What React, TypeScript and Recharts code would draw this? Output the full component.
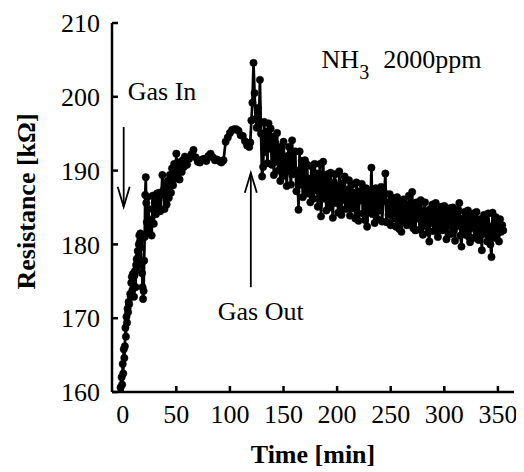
import { LineChart, Line, XAxis, YAxis, ReferenceLine, ReferenceDot } from 'recharts'

// time [min] of each reading
const timeMin = [
  -2, -1, -0.5, 0, 0.5, 1, 1.5, 2, 2.5, 3, 3.5, 4, 4.5, 5, 5.5, 6, 7, 7.5, 8, 8.5, 9, 9.5, 10, 10.5,
  11, 11.5, 12, 12.5, 13, 13.5, 14, 14.5, 15, 15.5, 16, 16.5, 17, 17.5, 18, 18.5, 19, 19.5, 20, 20.5,
  21, 21.5, 22, 22.5, 23, 23.5, 24, 25, 26, 27, 28, 29, 30, 31, 32, 33, 34, 35, 36, 37, 38, 39, 40,
  41, 42, 43, 44, 45, 46, 47, 48, 49, 50, 51, 52, 53, 54, 55, 56, 57, 58, 59, 60, 62, 64, 66, 68, 70,
  72, 74, 76, 78, 80, 82, 84, 86, 88, 90, 92, 94, 96, 98, 100, 102, 104, 106, 108, 110, 112, 114, 116,
  118, 119, 120, 121, 122, 123, 124, 125, 126, 127, 128, 129, 130, 131, 132, 133, 134, 135, 136, 137,
  138, 139, 140, 141, 142, 143, 144, 145, 146, 147, 148, 149,
  150, 151, 152, 153, 154, 155, 156, 157, 158, 159, 160, 161, 162, 163, 164, 165, 166, 167, 168, 169,
  170, 171, 172, 173, 174, 175, 176, 177, 178, 179, 180, 181, 182, 183, 184, 185, 186, 187, 188, 189,
  190, 191, 192, 193, 194, 195, 196, 197, 198, 199, 200, 201, 202, 203, 204, 205, 206, 207, 208, 209,
  210, 211, 212, 213, 214, 215, 216, 217, 218, 219, 220, 221, 222, 223, 224, 225, 226, 227, 228, 229,
  230, 231, 232, 233, 234, 235, 236, 237, 238, 239, 240, 241, 242, 243, 244, 245, 246, 247, 248, 249,
  250, 251, 252, 253, 254, 255, 256, 257, 258, 259, 260, 261, 262, 263, 264, 265, 266, 267, 268, 269,
  270, 271, 272, 273, 274, 275, 276, 277, 278, 279, 280, 281, 282, 283, 284, 285, 286, 287, 288, 289,
  290, 291, 292, 293, 294, 295, 296, 297, 298, 299, 300, 301, 302, 303, 304, 305, 306, 307, 308, 309,
  310, 311, 312, 313, 314, 315, 316, 317, 318, 319, 320, 321, 322, 323, 324, 325, 326, 327, 328, 329,
  330, 331, 332, 333, 334, 335, 336, 337, 338, 339, 340, 341, 342, 343, 344, 345, 346, 347, 348, 349,
  350, 351, 352, 353, 354, 355,
]

// resistance [kOhm]
const resistance = [
  160.6, 162.0, 161.0, 163.8, 162.5, 165.8, 164.6, 166.2, 168.7, 167.5, 170.2, 169.4, 171.3, 170.8, 172.2, 171.9, 173.3, 172.9, 174.8, 175.6, 173.8, 176.0, 174.6, 172.9,
  175.8, 176.4, 174.2, 177.2, 178.0, 176.9, 179.1, 178.3, 180.0, 181.2, 180.4, 181.5, 179.6, 177.6, 176.1, 174.2, 172.6, 173.7, 177.8, 181.0,
  186.7, 189.1, 185.6, 183.0, 186.4, 182.2, 184.8, 181.6, 183.3, 181.2, 186.6, 182.8, 185.7, 184.1, 186.9, 185.0, 187.0, 184.5, 186.7, 189.4, 187.3, 184.8, 187.9,
  185.4, 188.6, 186.3, 189.4, 187.0, 190.3, 188.0, 190.9, 188.9, 192.3, 189.6, 191.1, 188.8, 190.7, 189.8, 191.4, 190.5, 191.9, 191.0, 190.8, 191.6, 192.2, 192.8, 191.8, 191.2,
  191.1, 191.5, 191.6, 191.3, 192.0, 192.3, 191.8, 191.4, 191.5, 191.3, 191.1, 191.4, 193.9, 194.5, 195.1, 195.5, 195.6, 195.6, 195.4, 194.8, 194.7, 194.0, 193.4,
  193.2, 193.8, 196.8, 199.2, 204.6, 200.5, 197.0, 195.8, 198.5, 196.2, 202.3, 195.0, 189.2, 190.5, 196.6, 192.5, 195.3, 191.0, 196.4, 193.0,
  195.7, 190.8, 194.6, 189.4, 193.8, 191.2, 195.1, 190.0, 193.2, 188.6, 192.4, 190.1,
  193.9, 189.3, 191.6, 187.9, 192.0, 193.2, 189.9, 188.1, 194.1, 189.5, 190.2, 192.6, 187.2, 189.6, 184.7, 192.6, 188.1, 191.3, 186.4, 190.0,
  191.4, 187.4, 190.8, 186.9, 188.9, 185.7, 190.6, 188.7, 186.2, 190.9, 187.3, 189.6, 185.1, 188.5, 190.9, 183.8, 187.0, 191.2, 186.2, 188.8,
  184.6, 189.5, 187.1, 185.0, 189.7, 186.3, 183.6, 188.4, 189.5, 185.6, 187.9, 184.3, 189.9, 186.5, 184.0, 188.3, 186.0, 189.2, 184.8, 187.4,
  185.5, 188.7, 183.9, 186.6, 188.1, 184.9, 187.0, 183.5, 188.4, 185.8, 183.2, 187.2, 186.0, 188.2, 184.2, 186.9, 183.3, 187.6, 182.4, 185.5,
  187.3, 184.6, 190.4, 184.1, 186.8, 182.9, 187.6, 185.1, 183.4, 186.9, 184.6, 187.8, 183.1, 185.9, 187.0, 189.6, 183.0, 185.7, 184.0, 186.8,
  182.6, 185.2, 186.3, 183.5, 185.9, 182.4, 186.4, 184.3, 182.1, 185.6, 181.7, 184.9, 186.1, 183.2, 185.4, 182.6, 184.5, 186.6, 183.0, 185.2,
  187.1, 182.2, 184.8, 181.9, 185.7, 183.5, 185.3, 182.0, 186.0, 183.9, 181.3, 184.6, 185.7, 182.5, 184.1, 181.6, 180.4, 184.8, 182.9, 185.4,
  181.8, 184.2, 185.6, 182.4, 181.0, 184.5, 182.8, 185.1, 181.9, 184.0, 185.2, 182.1, 180.7, 184.3, 182.6, 184.9, 181.4, 183.7, 185.0, 181.9,
  180.5, 184.1, 182.5, 184.7, 185.6, 181.2, 179.7, 183.5, 182.0, 184.4, 181.3, 183.8, 184.6, 181.0, 180.3, 183.6, 182.2, 184.2, 180.9, 183.1,
  184.4, 181.6, 180.6, 183.4, 182.3, 179.2, 182.7, 184.0, 181.4, 183.2, 180.4, 184.2, 181.8, 180.0, 178.3, 184.3, 182.6, 180.9, 183.7, 181.5,
  182.8, 180.4, 183.4, 181.7, 182.6, 181.9,
]

const timeTicks = [0, 50, 100, 150, 200, 250, 300, 350]
const resistanceTicks = [160, 170, 180, 190, 200, 210]

const serif = 'Liberation Serif'
const data = timeMin.map((t, i) => ({ t, r: resistance[i] }))

function Arrow(props: any) {
  const { x1, y1, x2, y2 } = props
  const dir = y2 > y1 ? 1 : -1
  return (
    <g stroke="#000" strokeWidth={1.8} fill="none">
      <line x1={x1} y1={y1} x2={x2} y2={y2} />
      <polyline points={`${x2 - 6},${y2 - dir * 20} ${x2},${y2} ${x2 + 6},${y2 - dir * 20}`} />
    </g>
  )
}

const font = { fontFamily: serif, fontSize: 26 }
const tickStyle = { ...font, fill: '#000' }

export default function App() {
  return (
    <div style={{ width: 516, height: 464, background: '#fff' }}>
      <LineChart width={516} height={464} data={data} margin={{ top: 15, right: 10, bottom: 0, left: 0 }}>
        <XAxis
          dataKey="t"
          type="number"
          domain={[-10, 365]}
          ticks={timeTicks}
          height={80}
          stroke="#000"
          strokeWidth={2.5}
          tickSize={-6}
          tickMargin={19}
          tick={tickStyle}
          label={(p: any) => {
            const vb = p.viewBox
            return (
              <text x={vb.x + vb.width / 2} y={vb.y + 71} textAnchor="middle" fill="#000" style={{ ...font, fontWeight: 'bold' }}>
                Time [min]
              </text>
            )
          }}
        />
        <XAxis
          xAxisId="top"
          orientation="top"
          dataKey="t"
          type="number"
          domain={[-10, 365]}
          ticks={timeTicks}
          height={0}
          stroke="#000"
          strokeWidth={2.5}
          tickSize={-6}
          tick={false}
        />
        <YAxis
          type="number"
          domain={[160, 210]}
          ticks={resistanceTicks}
          width={104}
          stroke="#000"
          strokeWidth={2.5}
          tickSize={-6}
          tickMargin={18}
          tick={tickStyle}
          label={(p: any) => {
            const vb = p.viewBox
            const cy = vb.y + vb.height / 2 - 6
            return (
              <text x={27} y={cy} transform={`rotate(-90, 27, ${cy})`} textAnchor="middle" fill="#000" style={{ ...font, fontWeight: 'bold' }}>
                Resistance [kΩ]
              </text>
            )
          }}
        />
        <YAxis
          yAxisId="right"
          orientation="right"
          type="number"
          domain={[160, 210]}
          ticks={resistanceTicks}
          width={0}
          stroke="#000"
          strokeWidth={2.5}
          tickSize={-6}
          tick={false}
        />
        <Line
          dataKey="r"
          stroke="#000"
          strokeWidth={2.7}
          dot={{ r: 3.7, fill: '#000', stroke: '#000', strokeWidth: 0.5 }}
          isAnimationActive={false}
        />
        <ReferenceLine segment={[{ x: 0.9, y: 195.9 }, { x: 0.9, y: 185.1 }]} shape={Arrow} />
        <ReferenceLine segment={[{ x: 119.5, y: 174.2 }, { x: 119.5, y: 189.7 }]} shape={Arrow} />
        <ReferenceDot
          x={4.7}
          y={199.6}
          shape={(p: any) => (
            <text x={p.cx} y={p.cy} fill="#000" style={font}>
              Gas In
            </text>
          )}
        />
        <ReferenceDot
          x={128.7}
          y={169.8}
          shape={(p: any) => (
            <text x={p.cx} y={p.cy} textAnchor="middle" fill="#000" style={font}>
              Gas Out
            </text>
          )}
        />
        <ReferenceDot
          x={185.5}
          y={203.9}
          shape={(p: any) => (
            <text x={p.cx} y={p.cy} fill="#000" style={font}>
              NH
              <tspan dy={11} fontSize={20}>3</tspan>
              <tspan dy={-11} dx={14}>2000ppm</tspan>
            </text>
          )}
        />
      </LineChart>
    </div>
  )
}
